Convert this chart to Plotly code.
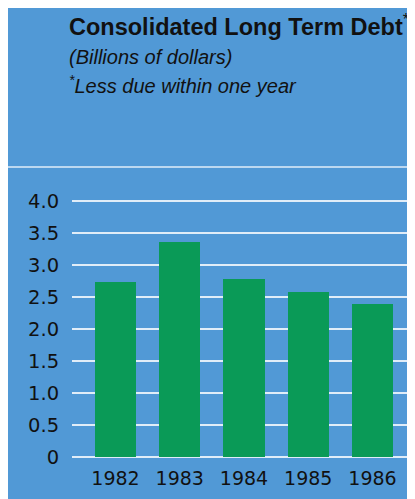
import plotly.graph_objects as go

years = ["1982", "1983", "1984", "1985", "1986"]
debt = [2.73, 3.36, 2.78, 2.58, 2.39]
y_ticks = [0, 0.5, 1.0, 1.5, 2.0, 2.5, 3.0, 3.5, 4.0]
y_labels = ["0", "0.5", "1.0", "1.5", "2.0", "2.5", "3.0", "3.5", "4.0"]

# page body has an 8px margin; work in screen pixels and subtract it
OFF = 8
W, H = 415 - OFF, 499 - OFF
L, R, T, B = 72 - OFF, 0, 169 - OFF, 499 - 457
pw, ph = W - L - R, H - T - B

def px_x(p):
    return (p - OFF - L) / pw

def px_y(p):
    return (H - B - (p - OFF)) / ph

blue = "#5199d6"
grid = "rgba(240,246,252,0.9)"
ink = "#111111"

fig = go.Figure()
fig.add_trace(go.Bar(
    x=list(range(len(years))), y=debt,
    marker=dict(color="#0a9a57", line=dict(width=0)),
    width=0.64,
))

fig.update_layout(
    width=W, height=H,
    margin=dict(l=L, r=R, t=T, b=B),
    paper_bgcolor=blue,
    plot_bgcolor=blue,
    showlegend=False,
    bargap=0,
    xaxis=dict(
        range=[-0.677, 4.661],
        tickvals=list(range(len(years))), ticktext=years,
        showgrid=False, zeroline=False, showline=False,
        ticks="outside", ticklen=4, tickcolor="rgba(0,0,0,0)",
        tickfont=dict(family="DejaVu Sans", size=19, color=ink),
        fixedrange=True,
    ),
    yaxis=dict(
        range=[0, 4.5],
        tickvals=y_ticks, ticktext=y_labels,
        showgrid=True, gridcolor=grid, gridwidth=1.5,
        zeroline=True, zerolinecolor=grid, zerolinewidth=1.5,
        showline=False,
        ticks="outside", ticklen=8, tickcolor="rgba(0,0,0,0)",
        tickfont=dict(family="DejaVu Sans", size=19.5, color=ink),
        fixedrange=True,
    ),
    shapes=[
        dict(type="line", xref="paper", yref="paper",
             x0=px_x(0), x1=px_x(420), y0=px_y(167), y1=px_y(167),
             line=dict(color=grid, width=1.5), layer="below"),
    ],
    annotations=[
        dict(text="<b>Consolidated Long Term Debt</b><sup>*</sup>",
             xref="paper", yref="paper", x=px_x(67), y=px_y(25),
             xanchor="left", yanchor="middle", showarrow=False,
             font=dict(family="Liberation Sans", size=23.5, color=ink)),
        dict(text="<i>(Billions of dollars)</i>",
             xref="paper", yref="paper", x=px_x(67), y=px_y(57),
             xanchor="left", yanchor="middle", showarrow=False,
             font=dict(family="Liberation Sans", size=20, color=ink)),
        dict(text="<i><sup>*</sup>Less due within one year</i>",
             xref="paper", yref="paper", x=px_x(67), y=px_y(85),
             xanchor="left", yanchor="middle", showarrow=False,
             font=dict(family="Liberation Sans", size=20, color=ink)),
    ],
)

fig.write_html("out.html")
